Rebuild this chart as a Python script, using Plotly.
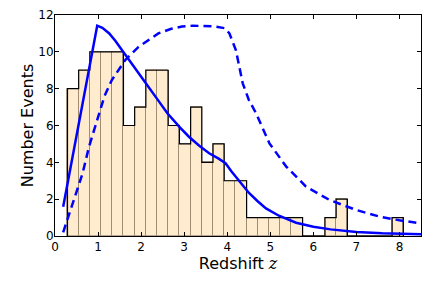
import plotly.graph_objects as go

# Histogram data
bin_start = 0.29
bin_width = 0.26
counts = [8, 9, 10, 10, 10, 6, 7, 9, 9, 6, 5, 7, 4, 5, 3, 3, 1, 1, 1, 1, 1,
          0, 0, 1, 2, 0, 0, 0, 0, 1]

# Solid model curve
solid_x = [0.19, 0.98, 1.1, 1.26, 1.4, 1.58, 1.8, 2.11, 2.4, 2.61, 2.9, 3.11, 3.35,
           3.58, 3.8, 3.96, 4.1, 4.3, 4.5, 4.7, 4.9, 5.2, 5.6, 6.0, 6.4, 7.0, 7.6, 8.5]
solid_y = [1.59, 11.42, 11.3, 11.0, 10.6, 10.0, 9.3, 8.29, 7.35, 6.66, 5.9, 5.39, 4.9,
           4.49, 4.2, 3.95, 3.5, 2.95, 2.35, 1.9, 1.5, 1.1, 0.72, 0.5, 0.36, 0.22, 0.15, 0.1]

# Dashed model curve
dash_x = [0.19, 0.4, 0.64, 0.79, 1.01, 1.15, 1.32, 1.63, 1.94, 2.2, 2.4, 2.7, 2.95, 3.2,
          3.4, 3.7, 3.95, 4.05, 4.2, 4.36, 4.5, 4.67, 4.98, 5.37, 5.83, 6.38, 7.0, 7.54,
          8.0, 8.5]
dash_y = [0.2, 1.7, 3.4, 4.85, 6.6, 7.6, 8.47, 9.55, 10.27, 10.7, 11.0, 11.25, 11.37,
          11.42, 11.42, 11.38, 11.28, 11.0, 10.1, 8.29, 7.4, 6.66, 5.03, 3.77, 2.68, 1.95,
          1.41, 1.05, 0.85, 0.69]

x_ticks = [0, 1, 2, 3, 4, 5, 6, 7, 8]
y_ticks = [0, 2, 4, 6, 8, 10, 12]

centers = [bin_start + bin_width * (i + 0.5) for i in range(len(counts))]
edges = [bin_start + bin_width * i for i in range(len(counts) + 1)]

fig = go.Figure()
fig.add_trace(go.Bar(
    x=centers, y=counts, width=bin_width,
    marker=dict(color="#FFEBCD", line=dict(color="rgba(90,70,40,0.45)", width=1)),
    showlegend=False, hoverinfo="skip",
))
fig.add_trace(go.Scatter(
    x=[edges[0]] + edges + [edges[-1]],
    y=[0] + counts + [counts[-1], 0],
    mode="lines", line=dict(color="black", width=1.2, shape="hv"),
    showlegend=False, hoverinfo="skip",
))
fig.add_trace(go.Scatter(
    x=solid_x, y=solid_y, mode="lines",
    line=dict(color="#0000FF", width=2.5), showlegend=False,
))
fig.add_trace(go.Scatter(
    x=dash_x, y=dash_y, mode="lines",
    line=dict(color="#0000FF", width=2.5, dash="8px,5px"), showlegend=False,
))

axis_common = dict(
    showline=True, linecolor="black", linewidth=1, mirror="ticks",
    ticks="inside", ticklen=4, tickcolor="black", showgrid=False, zeroline=False,
    tickfont=dict(family="DejaVu Sans", size=12, color="black"),
    automargin=False,
)
fig.update_xaxes(range=[0, 8.5], tickvals=x_ticks,
                 title=dict(text="Redshift <span style='font-family:DejaVu Serif'><i>z</i></span>",
                            font=dict(family="DejaVu Sans", size=16, color="black"),
                            standoff=0),
                 **axis_common)
fig.update_yaxes(range=[0, 12], tickvals=y_ticks, ticklabelstandoff=-2,
                 title=dict(text="Number Events",
                            font=dict(family="DejaVu Sans", size=16, color="black"),
                            standoff=0),
                 **axis_common)
fig.update_layout(
    width=443, height=295,
    margin=dict(l=55, r=22, t=15, b=59, autoexpand=False),
    paper_bgcolor="white", plot_bgcolor="white",
    bargap=0,
)
fig.write_html("out.html", config={"displayModeBar": False},
               post_script="document.body.style.margin='0';")
